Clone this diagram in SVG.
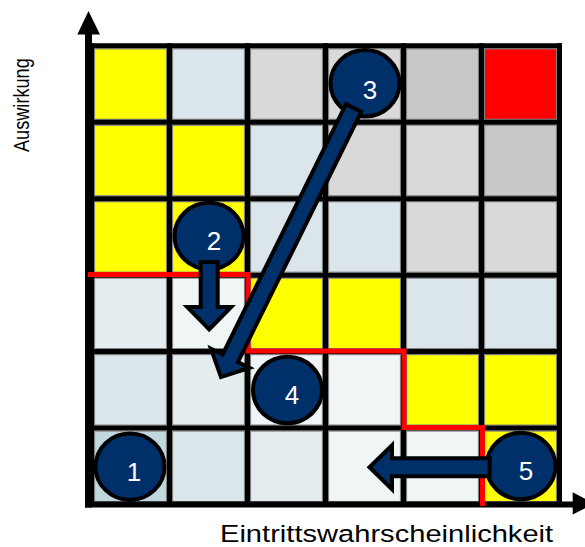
<svg xmlns="http://www.w3.org/2000/svg" width="585" height="547" viewBox="0 0 585 547">
<style>
.c{stroke:#7f7f7f;stroke-width:1.2}
.y{fill:#ffff00}.r{fill:#ff0000}.g1{fill:#d9d9d9}.g2{fill:#c8c8c8}
.b0{fill:#c1d7de}.b1{fill:#dae6eb}.b2{fill:#e4ecef}.b3{fill:#f0f6f6}
.gl{stroke:#000;stroke-width:5;fill:none}
.node ellipse{fill:#003069;stroke:#000;stroke-width:4}
.node text{fill:#fff;font-family:"Liberation Sans",Arial,sans-serif;font-size:26px;text-anchor:middle}
.arr{fill:#003069;stroke:#000;stroke-width:4;stroke-linejoin:miter}
.lbl{font-family:"Liberation Sans",Arial,sans-serif;fill:#000}
</style>
<rect width="585" height="547" fill="#fff"/>
<g id="cells" class="c">
<rect class="y" x="94.5" y="48.8" width="72" height="70.5"/>
<rect class="b1" x="172.5" y="48.8" width="72" height="70.5"/>
<rect class="g1" x="250.5" y="48.8" width="72" height="70.5"/>
<rect class="g1" x="328.5" y="48.8" width="72" height="70.5"/>
<rect class="g2" x="406.5" y="48.8" width="72" height="70.5"/>
<rect class="r" x="484.5" y="48.8" width="72" height="70.5"/>
<rect class="y" x="94.5" y="125.25" width="72" height="70.5"/>
<rect class="y" x="172.5" y="125.25" width="72" height="70.5"/>
<rect class="b1" x="250.5" y="125.25" width="72" height="70.5"/>
<rect class="g1" x="328.5" y="125.25" width="72" height="70.5"/>
<rect class="g1" x="406.5" y="125.25" width="72" height="70.5"/>
<rect class="g2" x="484.5" y="125.25" width="72" height="70.5"/>
<rect class="y" x="94.5" y="201.7" width="72" height="70.5"/>
<rect class="y" x="172.5" y="201.7" width="72" height="70.5"/>
<rect class="b1" x="250.5" y="201.7" width="72" height="70.5"/>
<rect class="b1" x="328.5" y="201.7" width="72" height="70.5"/>
<rect class="g1" x="406.5" y="201.7" width="72" height="70.5"/>
<rect class="g1" x="484.5" y="201.7" width="72" height="70.5"/>
<rect class="b2" x="94.5" y="278.15" width="72" height="70.5"/>
<rect class="b3" x="172.5" y="278.15" width="72" height="70.5"/>
<rect class="y" x="250.5" y="278.15" width="72" height="70.5"/>
<rect class="y" x="328.5" y="278.15" width="72" height="70.5"/>
<rect class="b1" x="406.5" y="278.15" width="72" height="70.5"/>
<rect class="b1" x="484.5" y="278.15" width="72" height="70.5"/>
<rect class="b1" x="94.5" y="354.6" width="72" height="70.5"/>
<rect class="b2" x="172.5" y="354.6" width="72" height="70.5"/>
<rect class="b3" x="250.5" y="354.6" width="72" height="70.5"/>
<rect class="b3" x="328.5" y="354.6" width="72" height="70.5"/>
<rect class="y" x="406.5" y="354.6" width="72" height="70.5"/>
<rect class="y" x="484.5" y="354.6" width="72" height="70.5"/>
<rect class="b0" x="94.5" y="431.05" width="72" height="70.5"/>
<rect class="b1" x="172.5" y="431.05" width="72" height="70.5"/>
<rect class="b2" x="250.5" y="431.05" width="72" height="70.5"/>
<rect class="b3" x="328.5" y="431.05" width="72" height="70.5"/>
<rect class="b3" x="406.5" y="431.05" width="72" height="70.5"/>
<rect class="y" x="484.5" y="431.05" width="72" height="70.5"/>
</g>
<g id="grid" class="gl">
<path d="M91.5,43.3V507M169.5,43.3V507M247.5,43.3V507M325.5,43.3V507M403.5,43.3V507M481.5,43.3V507M559.5,43.3V507"/>
<path d="M85,45.8H562M85,122.25H562M85,198.7H562M85,275.15H562M85,351.6H562M85,428.05H562"/>
</g>
<g id="axes">
<line x1="88.5" y1="33" x2="88.5" y2="507.5" stroke="#000" stroke-width="7"/>
<polygon points="77.3,34.5 88.5,11 100,34.5" fill="#000"/>
<line x1="85" y1="504.5" x2="574" y2="504.5" stroke="#000" stroke-width="6"/>
<polygon points="572.7,492.3 594,503.5 572.7,514.5" fill="#000"/>
</g>
<path id="boundary" d="M88,274.5H248V351H404V427.5H482.5V506" fill="none" stroke="#ff0000" stroke-width="5" stroke-linejoin="miter"/>
<g id="node1" class="node"><ellipse cx="130" cy="466.7" rx="34.5" ry="33.2"/><text x="134" y="480.5">1</text></g>
<g id="node2" class="node"><ellipse cx="209" cy="236" rx="34.5" ry="33.2"/><text x="214" y="250">2</text></g>
<g id="node3" class="node"><ellipse cx="365" cy="83.3" rx="34.5" ry="33.2"/><text x="370" y="99">3</text></g>
<g id="node4" class="node"><ellipse cx="287.5" cy="390" rx="34.5" ry="33.2"/><text x="292" y="403.5">4</text></g>
<g id="node5" class="node"><ellipse cx="521" cy="466" rx="34.5" ry="33.2"/><text x="526" y="480">5</text></g>
<g id="connectors">
<polygon class="arr" points="200.7,262 217.7,262 217.7,307 231.2,307 209.2,329.5 187.2,307 200.7,307"/>
<polygon class="arr" transform="translate(354.5,106.2) rotate(116.24)" points="2,-8.5 281,-8.5 281,-21.5 302,0 281,21.5 281,8.5 2,8.5"/>
<polygon class="arr" points="489.7,458.2 489.7,476.2 392,476.2 392,489.2 369.5,467.2 392,445.2 392,458.2"/>
</g>
<text class="lbl" transform="translate(220,541.5) scale(1.249,1)" font-size="23.3">Eintrittswahrscheinlichkeit</text>
<text class="lbl" transform="translate(28.8,152) rotate(-90) scale(0.84,1)" font-size="21.6">Auswirkung</text>
</svg>
